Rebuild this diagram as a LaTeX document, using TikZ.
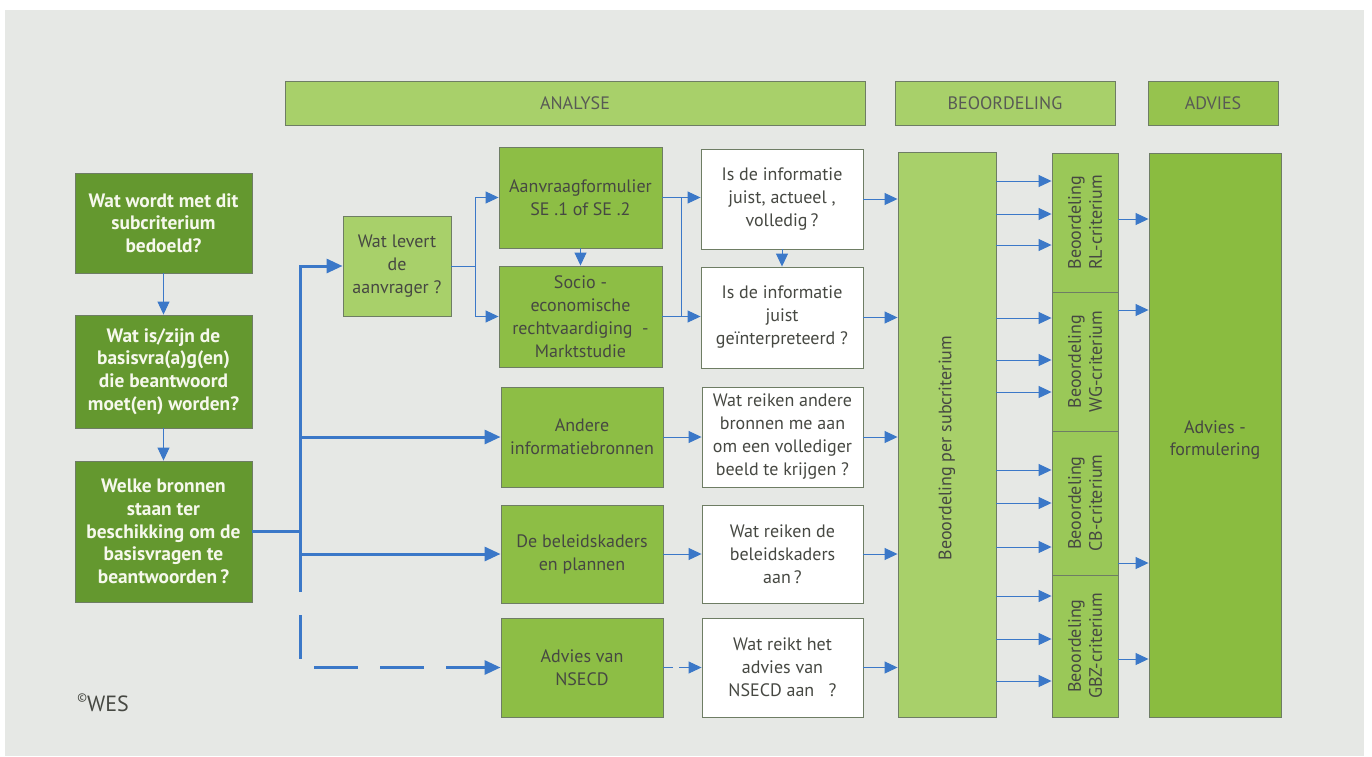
\documentclass[tikz,border=0pt]{standalone}
\usepackage{fontspec}
\setmainfont{PT Sans}
\usetikzlibrary{arrows.meta}
\definecolor{bggray}{RGB}{230,232,229}
\definecolor{dgreen}{RGB}{100,152,47}
\definecolor{mgreen}{RGB}{141,190,69}
\definecolor{lgreen}{RGB}{168,208,106}
\definecolor{sgreen}{RGB}{154,200,88}
\definecolor{agreen}{RGB}{138,188,64}
\definecolor{hgreen}{RGB}{150,195,78}
\definecolor{edge}{RGB}{110,125,100}
\definecolor{arrblue}{RGB}{59,120,200}
\definecolor{txt}{RGB}{70,72,66}
\definecolor{wtxt}{RGB}{246,248,236}
\newcommand\mkbox[7]{%
  \pgfmathsetmacro\mycx{(#3+#5)/2}\pgfmathsetmacro\mycy{(#4+#6)/2}%
  \pgfmathsetmacro\myww{(#5-#3)*0.5}\pgfmathsetmacro\myhh{(#6-#4)*0.5}%
  \node[#1, minimum width=\myww pt, minimum height=\myhh pt] (#2) at (\mycx,\mycy) {#7};}
\begin{document}
\begin{tikzpicture}[x=0.5pt,y=-0.5pt,
  box/.style={draw=edge, line width=0.45pt, inner sep=0pt, align=center,
    text=txt, font=\fontsize{9}{11.5}\selectfont},
  dbox/.style={box, fill=dgreen, text=wtxt, font=\bfseries\fontsize{9.7}{11.3}\selectfont},
  mbox/.style={box, fill=mgreen},
  lbox/.style={box, fill=lgreen},
  wbox/.style={box, fill=white},
  sbox/.style={box, fill=sgreen},
  hdr/.style={box, fill=lgreen, text=txt!90},
  rot/.style={rotate=90, align=center, text=txt, inner sep=0pt,
    font=\fontsize{9}{10.5}\selectfont},
  tline/.style={draw=arrblue, line width=0.5pt},
  bline/.style={draw=arrblue, line width=1.5pt, line join=miter},
  arr/.style={tline, -{Triangle[length=6.5pt,width=6pt]}},
  barr/.style={bline, -{Triangle[length=8pt,width=7pt]}},
  longdash/.style={dash pattern=on 22pt off 11pt},
  shortdash/.style={dash pattern=on 5pt off 3pt}]
\useasboundingbox (0,0) rectangle (1372,756);
\fill[white] (0,0) rectangle (1372,756);
\fill[bggray] (5,10) rectangle (1364,756);

% headers
\mkbox{hdr}{analyse}{285}{81}{865}{125}{ANALYSE}
\mkbox{hdr}{beoord}{895}{81}{1115}{125}{BEOORDELING}
\mkbox{hdr, fill=hgreen}{advies}{1148}{81}{1278}{125}{ADVIES}

% left column
\mkbox{dbox}{q1}{75}{173}{252}{273}{Wat wordt met dit\\subcriterium\\bedoeld?}
\mkbox{dbox}{q2}{75}{315}{252}{428}{Wat is/zijn de\\basisvra(a)g(en)\\die beantwoord\\moet(en) worden?}
\mkbox{dbox}{q3}{75}{461}{252}{602}{Welke bronnen\\staan ter\\beschikking om de\\basisvragen te\\beantwoorden\,?}

% analysis boxes
\mkbox{lbox}{wl}{343}{216}{451}{316}{Wat levert\\de\\aanvrager ?}
\mkbox{mbox}{aanv}{499}{147}{662}{248}{Aanvraagformulier\\SE .1 of SE .2}
\mkbox{mbox}{socio}{499}{266}{662}{367}{Socio -\\economische\\rechtvaardiging\ \ -\\Marktstudie}
\mkbox{mbox}{andere}{501}{387}{663}{487}{Andere\\informatiebronnen}
\mkbox{mbox}{beleid}{501}{505}{663}{603}{De beleidskaders\\en plannen}
\mkbox{mbox}{nsecd}{501}{618}{663}{717}{Advies van\\NSECD}

\mkbox{wbox}{info1}{701}{149}{863}{249}{Is de informatie\\juist, actueel ,\\volledig\,?}
\mkbox{wbox}{info2}{701}{267}{863}{368}{Is de informatie\\juist\\geïnterpreteerd ?}
\mkbox{wbox}{r3w}{702}{387}{863}{487}{Wat reiken andere\\bronnen me aan\\om een vollediger\\beeld te krijgen ?}
\mkbox{wbox}{r4w}{702}{505}{863}{603}{Wat reiken de\\beleidskaders\\aan\,?}
\mkbox{wbox}{r5w}{702}{618}{863}{717}{Wat reikt het\\advies van\\NSECD aan\ \ \ ?}

% assessment
\mkbox{lbox}{bps}{898}{152}{996}{717}{}
\node[rot] (bpst) at (947,448) {Beoordeling per subcriterium};
\mkbox{sbox}{rl}{1052}{153}{1118}{292}{}
\mkbox{sbox}{wg}{1052}{292}{1118}{431}{}
\mkbox{sbox}{cb}{1052}{431}{1118}{575}{}
\mkbox{sbox}{gbz}{1052}{575}{1118}{717}{}
\node[rot] (rlt) at (rl.center) {Beoordeling\\RL-criterium};
\node[rot] (wgt) at (wg.center) {Beoordeling\\WG-criterium};
\node[rot] (cbt) at (cb.center) {Beoordeling\\CB-criterium};
\node[rot] (gbzt) at (gbz.center) {Beoordeling\\GBZ-criterium};

\mkbox{box, fill=agreen}{advbox}{1149}{153}{1281}{717}{}
\node[align=center, text=txt, inner sep=0pt, font=\fontsize{9}{11}\selectfont] (advt) at (1215,440) {Advies -\\formulering};

% left column arrows
\draw[arr] (q1) -- (q2);
\draw[arr] (q2) -- (q3);

% bus
\coordinate (jq) at (300,531.5);
\coordinate (bustop) at (300,266);
\coordinate (busbot) at (300,592);
\coordinate (b3) at (300,437);
\coordinate (b4) at (300,554);
\coordinate (d1) at (300,615);
\coordinate (d2) at (300,660);
\coordinate (d3) at (314,667.5);
\draw[bline] (q3.east) -- (jq);
\draw[barr] (busbot) -- (bustop) -- (wl.west);
\draw[barr] (b3) -- (andere.west);
\draw[barr] (b4) -- (beleid.west);
\draw[bline, longdash] (d1) -- (d2);
\draw[barr, longdash] (d3) -- (nsecd.west);

% wat levert split
\coordinate (j1) at (475,266);
\draw[tline] (wl.east) -- (j1);
\draw[arr] (j1) |- (aanv.west);
\draw[arr] (j1) |- (socio.west);
\draw[arr] (aanv) -- (socio);

% to info boxes
\draw[arr] (aanv.east) -- (aanv.east -| info1.west);
\draw[arr] (socio.east) -- (socio.east -| info2.west);
\draw[tline] (aanv.east -| 681,0) -- (socio.east -| 681,0);
\draw[arr] (info1) -- (info2);
\draw[arr] (andere.east) -- (r3w.west);
\draw[arr] (beleid.east) -- (r4w.west);
\draw[arr, shortdash] (nsecd.east) -- (r5w.west);

% to Beoordeling per subcriterium
\draw[arr] (info1.east) -- (info1.east -| bps.west);
\draw[arr] (info2.east) -- (info2.east -| bps.west);
\draw[arr] (r3w.east) -- (r3w.east -| bps.west);
\draw[arr] (r4w.east) -- (r4w.east -| bps.west);
\draw[arr] (r5w.east) -- (r5w.east -| bps.west);

% bps to criteria
\foreach \yy in {181,214,245} \draw[arr] (bps.east |- 0,\yy) -- (rl.west |- 0,\yy);
\foreach \yy in {318,360,392} \draw[arr] (bps.east |- 0,\yy) -- (wg.west |- 0,\yy);
\foreach \yy in {470,503,547} \draw[arr] (bps.east |- 0,\yy) -- (cb.west |- 0,\yy);
\foreach \yy in {596,639,681} \draw[arr] (bps.east |- 0,\yy) -- (gbz.west |- 0,\yy);

% criteria to advies
\draw[arr] (rl.east |- 0,219) -- (advbox.west |- 0,219);
\draw[arr] (wg.east |- 0,310) -- (advbox.west |- 0,310);
\draw[arr] (cb.east |- 0,563) -- (advbox.west |- 0,563);
\draw[arr] (gbz.east |- 0,659) -- (advbox.west |- 0,659);

% copyright
\node[anchor=base west, inner sep=0pt, text=txt, font=\fontsize{11}{13}\selectfont] (wes) at (77,711)
  {\raisebox{0.45em}{\fontsize{6}{6}\selectfont ©}WES};
\end{tikzpicture}
\end{document}
